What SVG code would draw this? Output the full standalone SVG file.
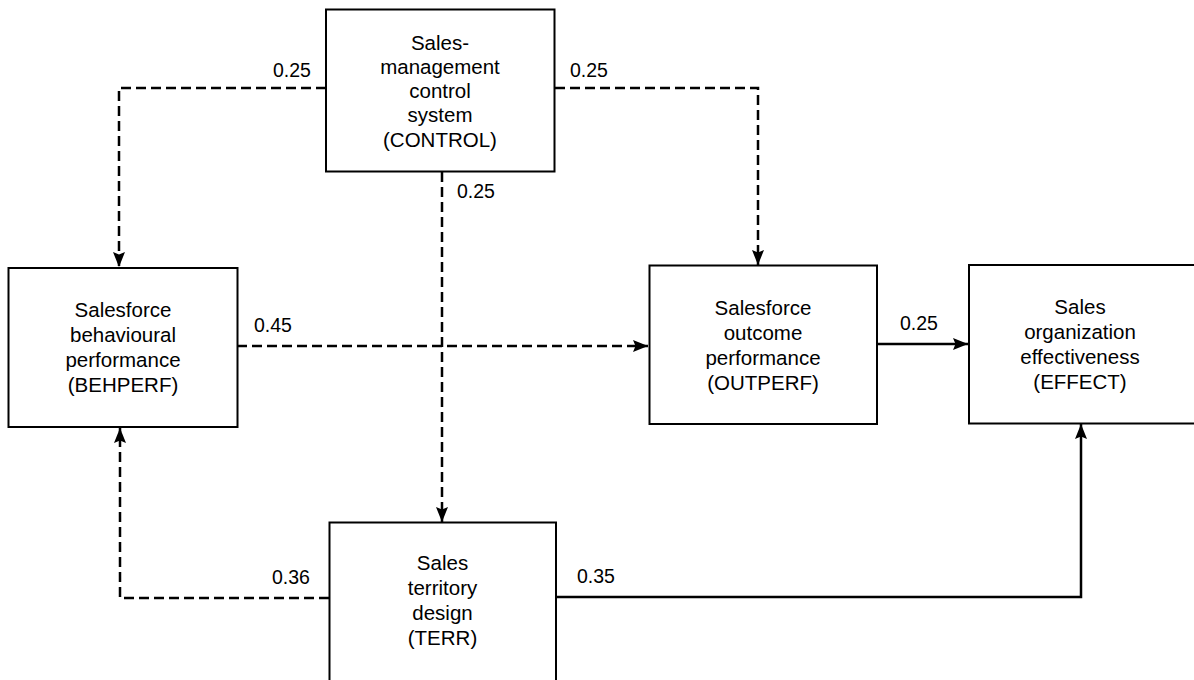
<svg xmlns="http://www.w3.org/2000/svg" width="1194" height="680" viewBox="0 0 1194 680">
  <defs>
    <marker id="arrow" markerUnits="userSpaceOnUse" markerWidth="16" markerHeight="13" refX="15" refY="6" orient="auto">
      <path d="M0,0 L15,6 L0,12 L2.5,6 z" fill="#000"/>
    </marker>
    <style>
      .box { fill: #fff; stroke: #000; stroke-width: 2; }
      .t { font-family: "Liberation Sans", Arial, Helvetica, sans-serif; font-size: 20.5px; fill: #000; text-anchor: middle; }
      .lbl { font-family: "Liberation Sans", Arial, Helvetica, sans-serif; font-size: 19.5px; fill: #000; }
      .dash { fill: none; stroke: #000; stroke-width: 2.5; stroke-dasharray: 10 5; marker-end: url(#arrow); }
      .solid { fill: none; stroke: #000; stroke-width: 2.5; marker-end: url(#arrow); }
    </style>
  </defs>
  <rect width="1194" height="680" fill="#fff"/>

  <g id="connectors">
    <path class="dash" d="M326,88 H119 V267"/>
    <path class="dash" d="M555,88 H758 V265"/>
    <path class="dash" d="M442,172 V522"/>
    <path class="dash" d="M237,346 H648"/>
    <path class="solid" d="M877,344 H968"/>
    <path class="dash" d="M329,598 H120 V428"/>
    <path class="solid" d="M556,597 H1081 V424"/>
  </g>

  <g id="labels">
    <text class="lbl" x="273" y="77">0.25</text>
    <text class="lbl" x="570" y="77">0.25</text>
    <text class="lbl" x="457" y="198">0.25</text>
    <text class="lbl" x="254" y="332">0.45</text>
    <text class="lbl" x="900" y="330">0.25</text>
    <text class="lbl" x="272" y="584">0.36</text>
    <text class="lbl" x="577" y="583">0.35</text>
  </g>

  <g id="control">
    <rect class="box" x="326" y="9.5" width="228.5" height="162"/>
    <text class="t" x="440" y="49.5">Sales-</text>
    <text class="t" x="440" y="73.8">management</text>
    <text class="t" x="440" y="98.1">control</text>
    <text class="t" x="440" y="122.4">system</text>
    <text class="t" x="440" y="146.7">(CONTROL)</text>
  </g>

  <g id="behperf">
    <rect class="box" x="8.5" y="268" width="229" height="159"/>
    <text class="t" x="123" y="317">Salesforce</text>
    <text class="t" x="123" y="342">behavioural</text>
    <text class="t" x="123" y="367">performance</text>
    <text class="t" x="123" y="392">(BEHPERF)</text>
  </g>

  <g id="outperf">
    <rect class="box" x="649.5" y="265.5" width="227.5" height="158.5"/>
    <text class="t" x="763" y="315">Salesforce</text>
    <text class="t" x="763" y="340">outcome</text>
    <text class="t" x="763" y="365">performance</text>
    <text class="t" x="763" y="390">(OUTPERF)</text>
  </g>

  <g id="effect">
    <rect class="box" x="969" y="265" width="240" height="158.5"/>
    <text class="t" x="1080" y="314">Sales</text>
    <text class="t" x="1080" y="339">organization</text>
    <text class="t" x="1080" y="364">effectiveness</text>
    <text class="t" x="1080" y="389">(EFFECT)</text>
  </g>

  <g id="terr">
    <rect class="box" x="329.5" y="522.5" width="226.5" height="170"/>
    <text class="t" x="442.5" y="570">Sales</text>
    <text class="t" x="442.5" y="595">territory</text>
    <text class="t" x="442.5" y="620">design</text>
    <text class="t" x="442.5" y="645">(TERR)</text>
  </g>
</svg>
